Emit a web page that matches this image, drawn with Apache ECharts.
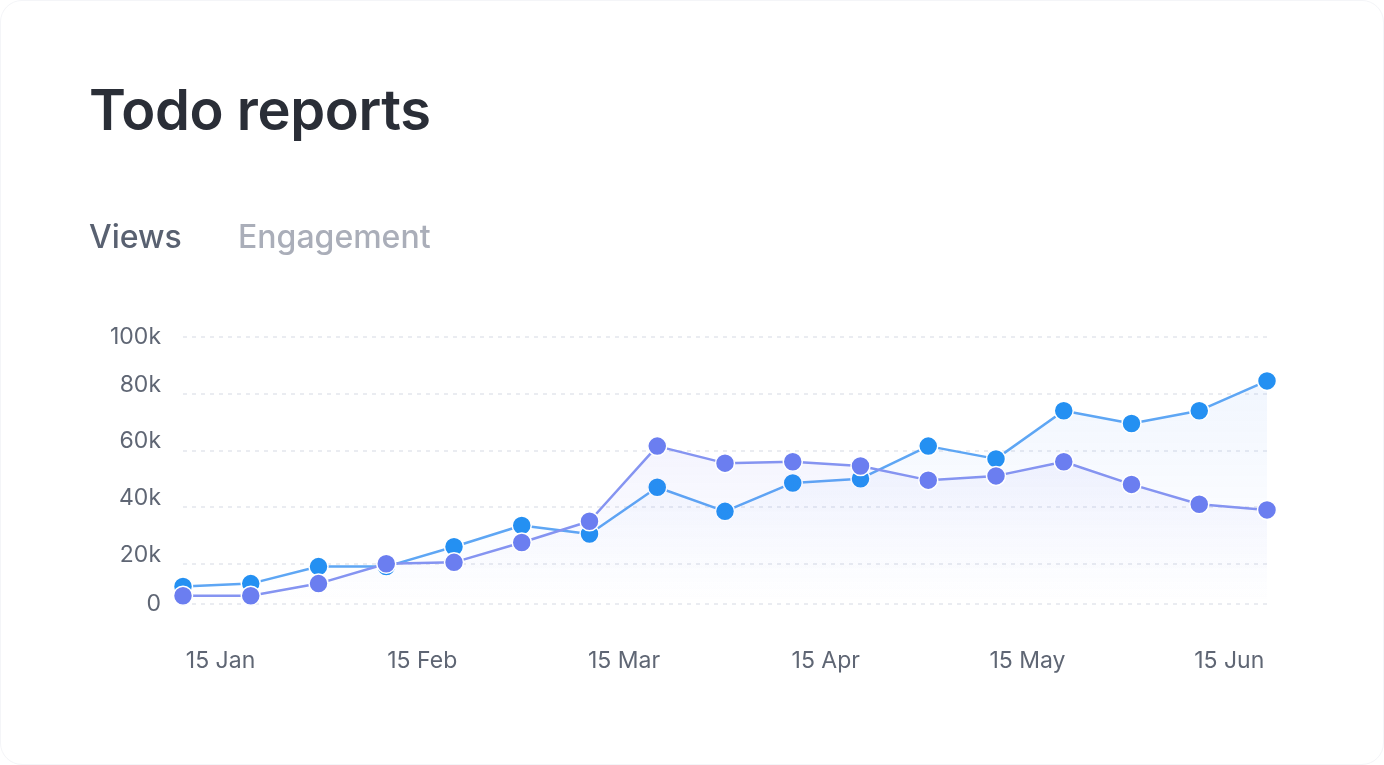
<!DOCTYPE html>
<html>
<head>
<meta charset="utf-8">
<script src="https://cdn.jsdelivr.net/npm/echarts@6/dist/echarts.min.js"></script>
<style>
  html, body { margin: 0; padding: 0; background: #fff; }
  .card {
    position: absolute; left: 0; top: 0; width: 1382px; height: 763px;
    border: 1px solid #f4f5f8; border-radius: 22px; background: #fff;
    font-family: Inter, "Noto Sans", sans-serif;
  }
  .title {
    position: absolute; left: 88px; top: 75px; margin: 0;
    font-size: 56px; font-weight: 600; color: #2a2e37; letter-spacing: -0.4px;
  }
  .tab { position: absolute; top: 216px; font-size: 32px; font-weight: 500; }
  #chart { position: absolute; left: 0; top: 0; width: 1384px; height: 765px; }
</style>
</head>
<body>
<div class="card">
  <div id="chart"></div>
  <h1 class="title">Todo reports</h1>
  <div class="tab" style="left:88px;color:#596171;">Views</div>
  <div class="tab" style="left:237px;color:#aaaeb9;">Engagement</div>
</div>
<script>
// 日期（每10天一个点）
var categories = ['15 Jan','25 Jan','5 Feb','15 Feb','25 Feb','5 Mar','15 Mar','25 Mar','5 Apr',
  '15 Apr','25 Apr','5 May','15 May','25 May','5 Jun','15 Jun','25 Jun'];
var seriesA = [12000,13000,19000,19000,26000,33500,30500,47000,38500,48500,50000,61500,57000,74000,69500,74000,84500];
var seriesB = [8700,8700,13000,20000,20500,27500,35000,61500,55500,56000,54500,49500,51000,56000,48000,41000,39000];
// y轴刻度（底部那条线就是图的下边）
var yTickValues = [5800,20000,40000,60000,80000,100000];
var yTickLabels = ['0','20k','40k','60k','80k','100k'];

var chart = echarts.init(document.getElementById('chart'));

function area(r,g,b){
  return {
    color: new echarts.graphic.LinearGradient(0,0,0,1,[
      {offset:0,color:'rgba('+r+','+g+','+b+',0.10)'},
      {offset:0.55,color:'rgba('+r+','+g+','+b+',0.04)'},
      {offset:1,color:'rgba('+r+','+g+','+b+',0)'}
    ])
  };
}

// x轴标签稍微往右挪，越往右挪得越少
var xRich = {};
for (var k = 0; k < 6; k++) {
  xRich['m' + k] = { fontSize: 23, color: '#5f6674', fontFamily: 'Inter', padding: [0,0,0,75 - 3*k] };
}

var option = {
  animation: false,
  textStyle: { fontFamily: 'Inter' },
  grid: { left: 182, right: 118, top: 336, bottom: 162, containLabel: false },
  xAxis: {
    type: 'category',
    data: categories,
    boundaryGap: false,
    axisLine: { show: false },
    axisTick: { show: false },
    splitLine: { show: false },
    axisLabel: {
      interval: 2,
      align: 'center',
      margin: 46,
      formatter: function(v, i){
        return '{m' + Math.round(i/3) + '|' + v + '}';
      },
      rich: xRich
    }
  },
  yAxis: {
    type: 'value',
    min: yTickValues[0],
    max: yTickValues[yTickValues.length-1],
    axisLine: { show: false },
    axisTick: { show: false, customValues: yTickValues },
    splitLine: { lineStyle: { color: '#e4e6ed', type: [4,5], width: 1.5 } },
    axisLabel: {
      customValues: yTickValues,
      margin: 22,
      formatter: function(v){
        var i = yTickValues.indexOf(v);
        var t = yTickLabels[i];
        if (i === 0 || i === yTickValues.length-1) return '{flat|'+t+'}';
        return '{up|'+t+'}';
      },
      rich: {
        flat: { fontSize: 23, color: '#5f6674', fontFamily: 'Inter' },
        up: { fontSize: 23, color: '#5f6674', fontFamily: 'Inter', padding: [0,0,18,0] }
      }
    }
  },
  series: [
    {
      name: 'Views',
      type: 'line',
      data: seriesA,
      symbol: 'circle',
      symbolSize: 19,
      lineStyle: { color: '#5ea6f4', width: 2.5 },
      itemStyle: { color: '#2490f2', borderColor: '#fff', borderWidth: 1.5 },
      areaStyle: area(59,130,246),
      z: 2
    },
    {
      name: 'Engagement',
      type: 'line',
      data: seriesB,
      symbol: 'circle',
      symbolSize: 19,
      lineStyle: { color: '#8594f1', width: 2.5 },
      itemStyle: { color: '#6b7ef0', borderColor: '#fff', borderWidth: 1.5 },
      areaStyle: area(99,102,241),
      z: 3
    }
  ]
};
chart.setOption(option);
</script>
</body>
</html>
